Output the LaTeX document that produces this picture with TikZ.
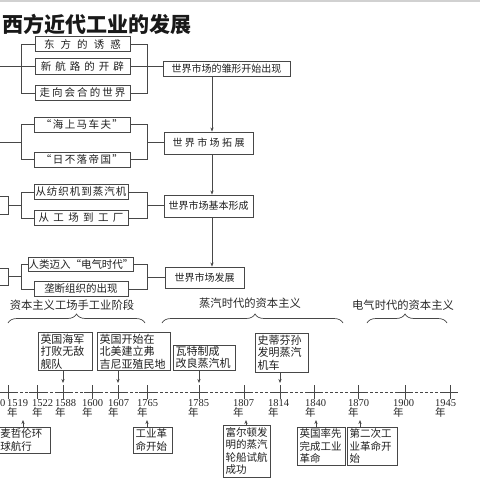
\documentclass[tikz,border=0pt]{standalone}
\usepackage{fontspec}
\setmainfont{Liberation Serif}
\newfontfamily\cjk{Noto Sans CJK SC}
\usetikzlibrary{arrows.meta,decorations.pathreplacing}
\newcommand\spc[2]{\makebox[#1]{#2}}
\tikzset{
  ln/.style={draw=black!72, line width=0.8pt},
  arr/.style={ln, -{Stealth[length=4pt,width=3.2pt]}},
  lbox/.style={draw=black!72, line width=0.9pt, inner sep=0pt, minimum height=15pt,
    text=black!88, font=\cjk\fontsize{10.5}{12}\selectfont},
  rbox/.style={lbox, font=\cjk\fontsize{10}{12}\selectfont},
  ebox/.style={draw=black!72, line width=0.9pt, inner xsep=2.5pt, inner ysep=1pt, align=left,
    text=black!88, font=\cjk\fontsize{11}{12.5}\selectfont},
  bbox/.style={ebox, font=\cjk\fontsize{10.5}{12.6}\selectfont},
  era/.style={inner sep=0pt, text=black!85, font=\cjk\fontsize{11.3}{13}\selectfont},
  yr/.style={anchor=north west, inner sep=0pt, align=left, text=black!85,
    font=\fontsize{10.5}{10.5}\selectfont},
  brc/.style={ln, line width=0.7pt, decorate, decoration={brace, amplitude=9pt}},
}
\begin{document}
\begin{tikzpicture}[x=1pt,y=-1pt]
\useasboundingbox (0,0) rectangle (480,480);
\clip (0,0) rectangle (480,480);
\fill[black!18] (0,0) rectangle (480,1.5);
% title
\node[inner sep=0pt, text=black!90, font=\cjk\bfseries\fontsize{21}{22}\selectfont] (title) at (97,24) {西方近代工业的发展};

\coordinate (Lx) at (21,0);
\coordinate (Rx) at (147,0);
\coordinate (Ax) at (212,0);

% group 1
\node[lbox, minimum width=95pt] (a1) at (82.5,44) {\spc{77pt}{东\hfill 方\hfill 的\hfill 诱\hfill 惑}};
\node[lbox, minimum width=95pt, minimum height=16pt] (a2) at (82.5,66.5) {\spc{83pt}{新\hfill 航\hfill 路\hfill 的\hfill 开\hfill 辟}};
\node[lbox, minimum width=95pt] (a3) at (82.5,93) {\spc{86pt}{走\hfill 向\hfill 会\hfill 合\hfill 的\hfill 世\hfill 界}};
\node[rbox, minimum width=127pt] (R1) at (226.5,68.5) {世界市场的雏形开始出现};
\coordinate (g1) at (0,66.5);
\draw[ln] (a1.west) -- (a1.west -| Lx) -- (a3.west -| Lx) -- (a3.west);
\draw[ln] (g1) -- (a2.west);
\draw[ln] (a1.east) -- (a1.east -| Rx) -- (a3.east -| Rx) -- (a3.east);
\draw[ln] (a2.east) -- (R1.west |- a2.east);

% group 2
\node[lbox, minimum width=96pt] (b1) at (82,124.5) {\spc{82pt}{“\hfill 海\hfill 上\hfill 马\hfill 车\hfill 夫\hfill ”}};
\node[lbox, minimum width=96pt] (b2) at (82,159.5) {\spc{82pt}{“\hfill 日\hfill 不\hfill 落\hfill 帝\hfill 国\hfill ”}};
\node[rbox, minimum width=89pt, minimum height=22pt] (R2) at (208.5,143) {\spc{72pt}{世\hfill 界\hfill 市\hfill 场\hfill 拓\hfill 展}};
\coordinate (g2) at (0,142);
\coordinate (m2) at (147,142);
\draw[ln] (b1.west) -- (b1.west -| Lx) -- (b2.west -| Lx) -- (b2.west);
\draw[ln] (g2) -- (g2 -| Lx);
\draw[ln] (b1.east) -- (b1.east -| Rx) -- (b2.east -| Rx) -- (b2.east);
\draw[ln] (m2) -- (R2.west |- m2);

% group 3
\node[lbox, minimum width=20pt, minimum height=18pt] (c0) at (-2,205) {};
\node[lbox, minimum width=94pt] (c1) at (81,192) {\spc{91pt}{从\hfill 纺\hfill 织\hfill 机\hfill 到\hfill 蒸\hfill 汽\hfill 机}};
\node[lbox, minimum width=94pt] (c2) at (81,218) {\spc{85pt}{从\hfill 工\hfill 场\hfill 到\hfill 工\hfill 厂}};
\node[rbox, minimum width=89pt, minimum height=22pt] (R3) at (208.5,206) {世界市场基本形成};
\coordinate (m3) at (147,205);
\draw[ln] (c1.west) -- (c1.west -| Lx) -- (c2.west -| Lx) -- (c2.west);
\draw[ln] (c0.east) -- (c0.east -| Lx);
\draw[ln] (c1.east) -- (c1.east -| Rx) -- (c2.east -| Rx) -- (c2.east);
\draw[ln] (m3) -- (R3.west |- m3);

% group 4
\node[lbox, minimum width=20pt, minimum height=17pt] (d0) at (-2,276.5) {};
\node[lbox, minimum width=94pt, minimum height=14pt] (d1) at (81,264) {人类迈入“电气时代”};
\node[lbox, minimum width=94pt] (d2) at (81,289) {垄断组织的出现};
\node[rbox, minimum width=79pt, minimum height=21pt] (R4) at (204.5,277.5) {世界市场发展};
\coordinate (m4) at (147,277);
\draw[ln] (d1.west) -- (d1.west -| Lx) -- (d2.west -| Lx) -- (d2.west);
\draw[ln] (d0.east) -- (d0.east -| Lx);
\draw[ln] (d1.east) -- (d1.east -| Rx) -- (d2.east -| Rx) -- (d2.east);
\draw[ln] (m4) -- (R4.west |- m4);

% vertical arrows
\draw[arr] (R1.south -| Ax) -- (R2.north -| Ax);
\draw[arr] (R2.south -| Ax) -- (R3.north -| Ax);
\draw[arr] (R3.south -| Ax) -- (R4.north -| Ax);

% eras
\node[era] (e1) at (72,305) {资本主义工场手工业阶段};
\node[era] (e2) at (250,303) {蒸汽时代的资本主义};
\node[era] (e3) at (403,305) {电气时代的资本主义};
\draw[brc, decoration={aspect=0.5}] (8,323) -- (145,323);
\draw[brc, decoration={aspect=0.514}] (162,323) -- (343,323);
\draw[brc, decoration={aspect=0.475}] (367,323) -- (447,323);

% axis
\draw[ln, dash pattern=on 3pt off 2pt] (0,392) -- (450,392);
\foreach \x in {8,37,63,92,118,147,199,244,280,314,358,405,450}{
  \draw[ln] (\x-8,392) -- (\x+8,392);
  \draw[ln] (\x,385) -- (\x,399);
}
\draw[ln] (0,392) -- (2,392);
\coordinate (t1519) at (8,392);
\coordinate (t1588) at (63,392);
\coordinate (t1607) at (118,392);
\coordinate (t1765) at (147,392);
\coordinate (t1785) at (199,392);
\coordinate (t1807) at (246,392);
\coordinate (t1814) at (280,392);
\coordinate (t1840) at (316,392);
\coordinate (t1870) at (360,392);
\coordinate (tmag) at (23,392);

\node[yr] (y1500) at (0,399) {0};
\node[yr] (y1519) at (7,399) {1519\\{\cjk 年}};
\node[yr] (y1522) at (32,399) {1522\\{\cjk 年}};
\node[yr] (y1588) at (55,399) {1588\\{\cjk 年}};
\node[yr] (y1600) at (82,399) {1600\\{\cjk 年}};
\node[yr] (y1607) at (108,399) {1607\\{\cjk 年}};
\node[yr] (y1765) at (137,399) {1765\\{\cjk 年}};
\node[yr] (y1785) at (188,399) {1785\\{\cjk 年}};
\node[yr] (y1807) at (233,399) {1807\\{\cjk 年}};
\node[yr] (y1814) at (268,399) {1814\\{\cjk 年}};
\node[yr] (y1840) at (305,399) {1840\\{\cjk 年}};
\node[yr] (y1870) at (348,399) {1870\\{\cjk 年}};
\node[yr] (y1900) at (393,399) {1900\\{\cjk 年}};
\node[yr] (y1945) at (435,399) {1945\\{\cjk 年}};

% events above
\node[ebox, text width=49pt, minimum height=37pt] (E1) at (65,351.5) {英国海军\\打败无敌\\舰队};
\node[ebox, text width=68pt, minimum height=37pt] (E2) at (133.5,351.5) {英国开始在\\北美建立弗\\吉尼亚殖民地};
\node[ebox, text width=57pt, minimum height=25pt] (E3) at (204,357.5) {瓦特制成\\改良蒸汽机};
\node[ebox, text width=48pt, minimum height=39pt] (E4) at (281.5,352.5) {史蒂芬孙\\发明蒸汽\\机车};
\draw[arr] (E1.south -| t1588) -- ([yshift=9pt]t1588);
\draw[arr] (E2.south -| t1607) -- ([yshift=9pt]t1607);
\draw[arr] (E3.south -| t1785) -- ([yshift=9pt]t1785);
\draw[arr] (E4.south -| t1814) -- ([yshift=9pt]t1814);

% events below
\node[bbox, text width=47pt, minimum height=26pt] (B1) at (24,440) {麦哲伦环\\球航行};
\node[bbox, text width=34pt, minimum height=26pt] (B2) at (152.5,440) {工业革\\命开始};
\node[bbox, text width=42pt, minimum height=52pt] (B3) at (246.5,451) {富尔顿发\\明的蒸汽\\轮船试航\\成功};
\node[bbox, text width=43pt, minimum height=38pt] (B4) at (321,446) {英国率先\\完成工业\\革命};
\node[bbox, text width=45pt, minimum height=38pt] (B5) at (372,446) {第二次工\\业革命开\\始};
\draw[arr] (B1.north -| tmag) -- ([yshift=-28pt]tmag);
\draw[arr] (B2.north -| t1765) -- ([yshift=-28pt]t1765);
\draw[arr] (B3.north -| t1807) -- ([yshift=-28pt]t1807);
\draw[arr] (B4.north -| t1840) -- ([yshift=-28pt]t1840);
\draw[arr] (B5.north -| t1870) -- ([yshift=-28pt]t1870);
\end{tikzpicture}
\end{document}
